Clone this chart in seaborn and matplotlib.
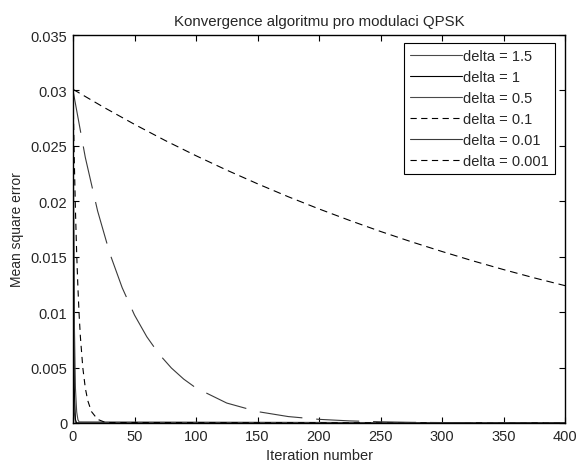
import matplotlib
matplotlib.use("Agg")
import matplotlib.pyplot as plt
from matplotlib.lines import Line2D
import seaborn as sns
import pandas as pd

# ---- data ----
labels = ["delta = 1.5", "delta = 1", "delta = 0.5", "delta = 0.1", "delta = 0.01", "delta = 0.001"]

x_d15 = [0, 1, 2, 3, 400]
y_d15 = [0.0300, 0.0010, 0.00003, 0.0, 0.0]

x_d1 = [0, 1, 2, 3, 400]
y_d1 = [0.0300, 0.0032, 0.0003, 0.0, 0.0]

x_d05 = [0, 1, 2, 3, 4, 5, 400]
y_d05 = [0.0300, 0.0097, 0.0031, 0.0010, 0.0003, 0.0001, 0.0]

x_d01 = [0, 1, 2, 3, 4, 5, 6, 8, 10, 12, 15, 20, 25, 30, 400]
y_d01 = [0.0300, 0.02395, 0.01913, 0.01527, 0.01220, 0.00974, 0.00778, 0.00496,
         0.00316, 0.00202, 0.00103, 0.00033, 0.00011, 0.00004, 0.0]

x_d001 = [0, 10, 20, 30, 40, 50, 60, 70, 80, 90, 100, 125, 150, 175, 200,
          225, 250, 275, 300, 350, 400]
y_d001 = [0.0300, 0.02396, 0.01913, 0.01527, 0.01220, 0.00974, 0.00778, 0.00621,
          0.00496, 0.00396, 0.00316, 0.00180, 0.00103, 0.00058, 0.00033,
          0.00019, 0.00011, 0.00006, 0.00004, 0.00001, 0.0]

x_d0001 = [0, 25, 50, 75, 100, 125, 150, 175, 200, 225, 250, 275, 300, 325, 350, 375, 400]
y_d0001 = [0.0301, 0.02848, 0.02694, 0.02548, 0.02411, 0.02281, 0.02158, 0.02041,
           0.01931, 0.01827, 0.01728, 0.01635, 0.01547, 0.01463, 0.01384, 0.01309, 0.01239]

xticks = [0, 50, 100, 150, 200, 250, 300, 350, 400]
yticks = [0, 0.005, 0.01, 0.015, 0.02, 0.025, 0.03, 0.035]
ytick_labels = ["0", "0.005", "0.01", "0.015", "0.02", "0.025", "0.03", "0.035"]

title = "Konvergence algoritmu pro modulaci QPSK"
xlabel = "Iteration number"
ylabel = "Mean square error"

# ---- long table ----
series = [(x_d15, y_d15), (x_d1, y_d1), (x_d05, y_d05), (x_d01, y_d01), (x_d001, y_d001), (x_d0001, y_d0001)]
rows = []
for lab, (xs, ys) in zip(labels, series):
    for xv, yv in zip(xs, ys):
        rows.append({"iter": xv, "mse": yv, "delta": lab})
df = pd.DataFrame(rows)

# ---- style ----
sns.set_style("ticks")
plt.rcParams["font.family"] = ["Liberation Sans", "DejaVu Sans"]
plt.rcParams["lines.scale_dashes"] = False
plt.rcParams["xtick.direction"] = "in"
plt.rcParams["ytick.direction"] = "in"

colors = {
    "delta = 1.5": "#4a4a4a",
    "delta = 1": "#000000",
    "delta = 0.5": "#4a4a4a",
    "delta = 0.1": "#000000",
    "delta = 0.01": "#3a3a3a",
    "delta = 0.001": "#000000",
}
plot_dashes = {
    "delta = 1.5": "",
    "delta = 1": "",
    "delta = 0.5": "",
    "delta = 0.1": (4.5, 3.5),
    "delta = 0.01": (31, 10),
    "delta = 0.001": (5.5, 3.5),
}

fig = plt.figure(figsize=(5.77, 4.64), dpi=100)
ax = fig.add_axes([73 / 577, 40 / 464, 492 / 577, 388 / 464])

sns.lineplot(data=df, x="iter", y="mse", hue="delta", style="delta",
             hue_order=labels, style_order=labels, palette=colors,
             dashes=plot_dashes, estimator=None, sort=True, linewidth=0.8,
             legend=False, ax=ax)

ax.set_xlim(0, 400)
ax.set_ylim(0, 0.035)
ax.set_xticks(xticks)
ax.set_xticklabels([str(t) for t in xticks])
ax.set_yticks(yticks)
ax.set_yticklabels(ytick_labels)
ax.tick_params(axis="both", which="both", direction="in", top=True, right=True,
               length=4, width=0.8, labelsize=10.5, pad=4, color="black")
for sp in ax.spines.values():
    sp.set_visible(True)
    sp.set_linewidth(1.0)
    sp.set_color("black")

ax.set_title(title, fontsize=10.8, pad=7)
ax.set_xlabel(xlabel, fontsize=10.5, labelpad=4)
ax.set_ylabel(ylabel, fontsize=10, labelpad=5)

legend_ls = {
    "delta = 1.5": "-",
    "delta = 1": "-",
    "delta = 0.5": "-",
    "delta = 0.1": (0, (4.5, 3.2)),
    "delta = 0.01": "-",
    "delta = 0.001": (0, (4.5, 3.2)),
}
handles = [Line2D([0], [0], color=colors[l], linestyle=legend_ls[l], linewidth=0.8) for l in labels]
leg = ax.legend(handles, labels, loc="upper right", bbox_to_anchor=((555 - 73) / 492, (424 - 44) / 388),
                borderaxespad=0, fontsize=10.5, frameon=True, fancybox=False, framealpha=1,
                edgecolor="black", handlelength=3.55, handletextpad=0.12,
                labelspacing=0.48, borderpad=0.4)
leg.get_frame().set_linewidth(0.8)

fig.savefig("out.png", dpi=100)
